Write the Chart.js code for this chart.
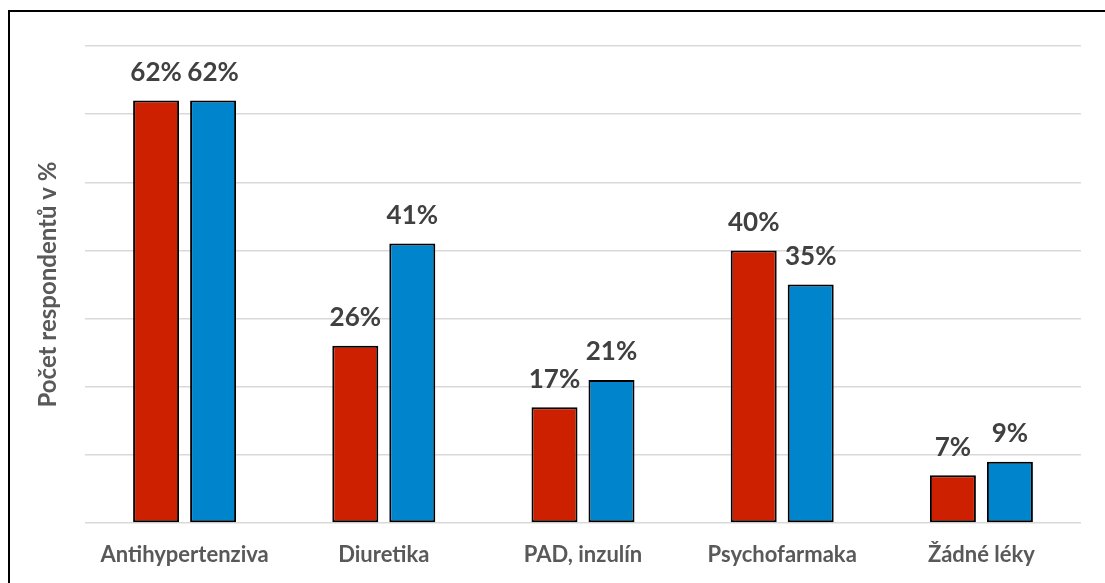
<!DOCTYPE html>
<html lang="cs">
<head>
<meta charset="utf-8">
<title>Užívané léky</title>
<script src="https://cdn.jsdelivr.net/npm/chart.js@4.4.1/dist/chart.umd.min.js"></script>
<style>
  html, body { margin: 0; padding: 0; background: #fff; }
  body { width: 1105px; height: 583px; position: relative; overflow: hidden; }
  #frame {
    position: absolute; left: 8px; top: 10px; right: -4px; bottom: -4px;
    border-left: 2px solid #000; border-top: 2px solid #000;
    pointer-events: none;
  }
  #wrap { position: absolute; left: 0; top: 0; width: 1105px; height: 583px; }
</style>
</head>
<body>
<div id="wrap"><canvas id="chart" width="1105" height="583"></canvas></div>
<div id="frame"></div>
<script>
// Kategorie léků a podíl respondentů (%) ve dvou skupinách
const categories = ['Antihypertenziva', 'Diuretika', 'PAD, inzulín', 'Psychofarmaka', 'Žádné léky'];
const groupA = [62, 26, 17, 40, 7];
const groupB = [62, 41, 21, 35, 9];
const axisTitle = 'Počet respondentů v %';
const yMax = 70;
const yStep = 10;

const FONT = 'Lato, "Open Sans", "DejaVu Sans", sans-serif';

// Popisky hodnot nad sloupci
const valueLabels = {
  id: 'valueLabels',
  afterDatasetsDraw(chart) {
    const ctx = chart.ctx;
    ctx.save();
    ctx.font = 'bold 26px ' + FONT;
    ctx.fillStyle = '#404040';
    ctx.textAlign = 'center';
    ctx.textBaseline = 'middle';
    chart.data.datasets.forEach((ds, i) => {
      chart.getDatasetMeta(i).data.forEach((bar, j) => {
        ctx.fillText(ds.data[j] + '%', bar.x, bar.y - 28);
      });
    });
    ctx.restore();
  }
};

new Chart(document.getElementById('chart'), {
  type: 'bar',
  data: {
    labels: categories,
    datasets: [
      {
        data: groupA,
        backgroundColor: '#CC2000',
        borderColor: '#000000',
        borderWidth: 2,
        borderSkipped: false
      },
      {
        data: groupB,
        backgroundColor: '#0084CC',
        borderColor: '#000000',
        borderWidth: 2,
        borderSkipped: false
      }
    ]
  },
  options: {
    responsive: false,
    animation: false,
    devicePixelRatio: 1,
    datasets: {
      bar: { categoryPercentage: 0.5723, barPercentage: 0.807 }
    },
    layout: { padding: { left: 34, right: 24, top: 46, bottom: 0 } },
    plugins: {
      legend: { display: false },
      tooltip: { enabled: false }
    },
    scales: {
      x: {
        grid: { display: false, drawTicks: false },
        border: { display: false },
        ticks: {
          color: '#595959',
          padding: 19,
          font: { family: FONT, size: 22, weight: 'bold' }
        },
        afterFit(scale) { scale.height = 60; }
      },
      y: {
        min: 0,
        max: yMax,
        ticks: { display: false, stepSize: yStep },
        grid: { color: '#d9d9d9', lineWidth: 1.5, drawTicks: false },
        border: { display: false },
        title: {
          display: true,
          text: axisTitle,
          color: '#595959',
          padding: { top: 0, bottom: 0 },
          font: { family: FONT, size: 24, weight: 'bold' }
        },
        afterFit(scale) { scale.width = 51; }
      }
    }
  },
  plugins: [valueLabels]
});
</script>
</body>
</html>
